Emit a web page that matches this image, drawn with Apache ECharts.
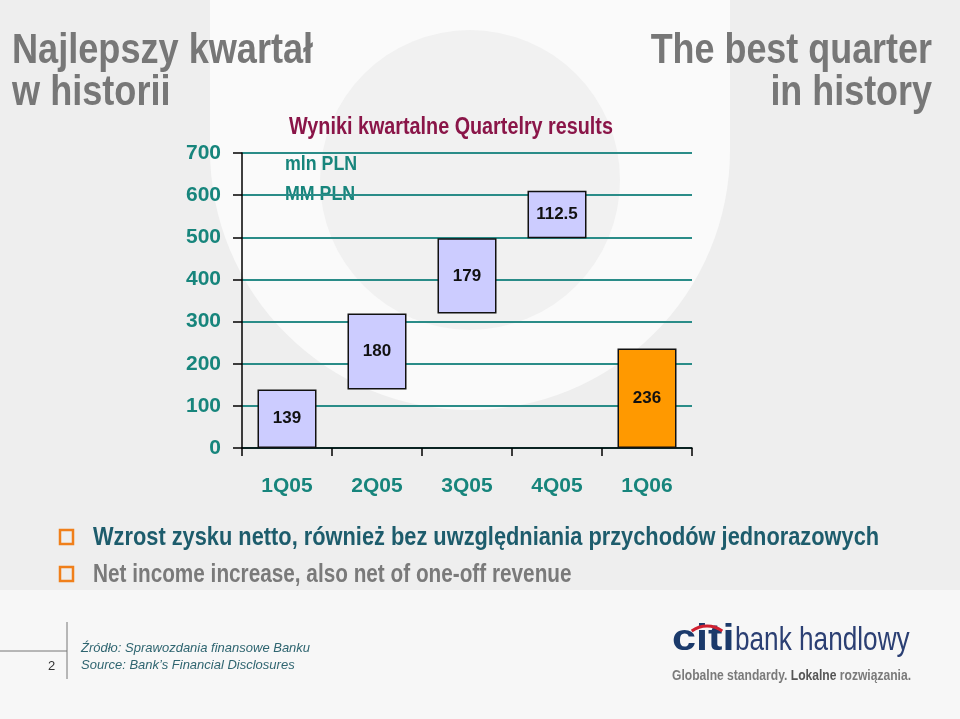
<!DOCTYPE html>
<html><head><meta charset="utf-8">
<script src="https://cdn.jsdelivr.net/npm/echarts@6/dist/echarts.min.js"></script>
<style>html,body{margin:0;padding:0;background:#efefef}#c{width:960px;height:719px}</style>
</head><body><div id="c"></div>
<script>
const categories = ['1Q05','2Q05','3Q05','4Q05','1Q06'];
const increments = [139, 180, 179, 112.5, 236];
const isTotal = [false, false, false, false, true];
const yTicks = [0,100,200,300,400,500,600,700];

// base offsets of the waterfall, built from the increments
const bases = [];
let run = 0;
increments.forEach((v,i)=>{ if(isTotal[i]){bases.push(0);} else {bases.push(run); run += v;} });

const F = '"Liberation Sans",Arial,sans-serif';
const teal = '#17857c';
const chart = echarts.init(document.getElementById('c'));
chart.setOption({
  backgroundColor: '#eeeeee',
  animation: false,
  graphic: [
    {type:'circle', z:-10, shape:{cx:470, cy:150, r:260}, style:{fill:'#fafafa'}},
    {type:'rect', z:-10, shape:{x:210, y:-20, width:520, height:170}, style:{fill:'#fafafa'}},
    {type:'circle', z:-9, shape:{cx:470, cy:180, r:150}, style:{fill:'#f1f1f1'}},
    {type:'rect', z:-10, shape:{x:0, y:590, width:960, height:130}, style:{fill:'#f7f7f7'}},
    {type:'text', x:12, y:30, scaleX:0.86, style:{text:'Najlepszy kwartał\nw historii', font:'bold 42px '+F, fill:'#777777', lineHeight:42}},
    {type:'text', x:932, y:30, scaleX:0.855, style:{text:'The best quarter\nin history', font:'bold 42px '+F, fill:'#777777', lineHeight:42, textAlign:'right'}},
    {type:'text', x:289, y:116, scaleX:0.86, style:{text:'Wyniki kwartalne Quartelry results', font:'bold 23px '+F, fill:'#8a1548'}},
    {type:'text', x:285, y:154, scaleX:0.89, style:{text:'mln PLN', font:'bold 20px '+F, fill:teal}},
    {type:'text', x:285, y:184, scaleX:0.89, style:{text:'MM PLN', font:'bold 20px '+F, fill:teal}},
    {type:'rect', shape:{x:60, y:530, width:13, height:14}, style:{fill:'none', stroke:'#f07f1a', lineWidth:2.5}},
    {type:'rect', shape:{x:60, y:567, width:13, height:14}, style:{fill:'none', stroke:'#f07f1a', lineWidth:2.5}},
    {type:'text', x:93, y:526, scaleX:0.872, style:{text:'Wzrost zysku netto, również bez uwzględniania przychodów jednorazowych', font:'bold 25px '+F, fill:'#1d5c6c'}},
    {type:'text', x:93, y:563, scaleX:0.83, style:{text:'Net income increase, also net of one-off revenue', font:'bold 25px '+F, fill:'#7a7a7a'}},
    {type:'line', shape:{x1:0, y1:651, x2:67, y2:651}, style:{stroke:'#777', lineWidth:1}},
    {type:'line', shape:{x1:67, y1:622, x2:67, y2:679}, style:{stroke:'#777', lineWidth:1}},
    {type:'text', x:48, y:660, style:{text:'2', font:'13px '+F, fill:'#333'}},
    {type:'text', x:81, y:640, style:{text:'Źródło: Sprawozdania finansowe Banku\nSource: Bank\u2019s Financial Disclosures', font:'italic 13px '+F, fill:'#2f6570', lineHeight:17}},
    {type:'text', x:672, y:622, scaleX:1.2, style:{text:'citi', font:'bold 36px '+F, fill:'#1b3a6b'}},
    {type:'arc', shape:{cx:707, cy:652, r:26, startAngle:Math.PI*1.3, endAngle:Math.PI*1.7}, style:{stroke:'#d02030', lineWidth:3, fill:'none'}},
    {type:'text', x:735, y:624, scaleX:0.77, style:{text:'bank handlowy', font:'34px '+F, fill:'#2b3f73'}},
    {type:'text', x:672, y:669, scaleX:0.864, style:{text:'{a|Globalne standardy. }{b|Lokalne}{a| rozwiązania.}', rich:{a:{font:'bold 14px '+F, fill:'#7a7a7a'}, b:{font:'bold 14px '+F, fill:'#555'}}}}
  ],
  grid: {left:242, right:268, top:153, bottom:271, containLabel:false},
  xAxis: {
    type:'category', data:categories,
    axisLine:{lineStyle:{color:'#000', width:1.5}},
    axisTick:{show:true, length:8, lineStyle:{color:'#000', width:1.5}},
    axisLabel:{color:teal, fontFamily:F, fontWeight:'bold', fontSize:21, margin:28}
  },
  yAxis: {
    type:'value', min:0, max:700, interval:100,
    axisLine:{show:true, lineStyle:{color:'#000', width:1.5}},
    axisTick:{show:true, length:9, inside:false, lineStyle:{color:'#000', width:1.5}},
    axisLabel:{color:teal, fontFamily:F, fontWeight:'bold', fontSize:21, margin:21,
      formatter:(v)=> yTicks.includes(v) ? String(v) : ''},
    splitLine:{show:true, lineStyle:{color:'#2a8c88', width:2}}
  },
  series: [
    {type:'bar', stack:'w', data:bases, barWidth:59, itemStyle:{color:'transparent'}, silent:true},
    {type:'bar', stack:'w', data:increments.map((v,i)=>({value:v, itemStyle:{color: isTotal[i] ? '#ff9900' : '#ccccff'}})),
      barWidth:59,
      itemStyle:{borderColor:'#111', borderWidth:1.5},
      label:{show:true, position:'inside', color:'#111', fontFamily:F, fontWeight:'bold', fontSize:17,
        formatter:(p)=> String(p.value)}
    }
  ]
});
</script></body></html>
